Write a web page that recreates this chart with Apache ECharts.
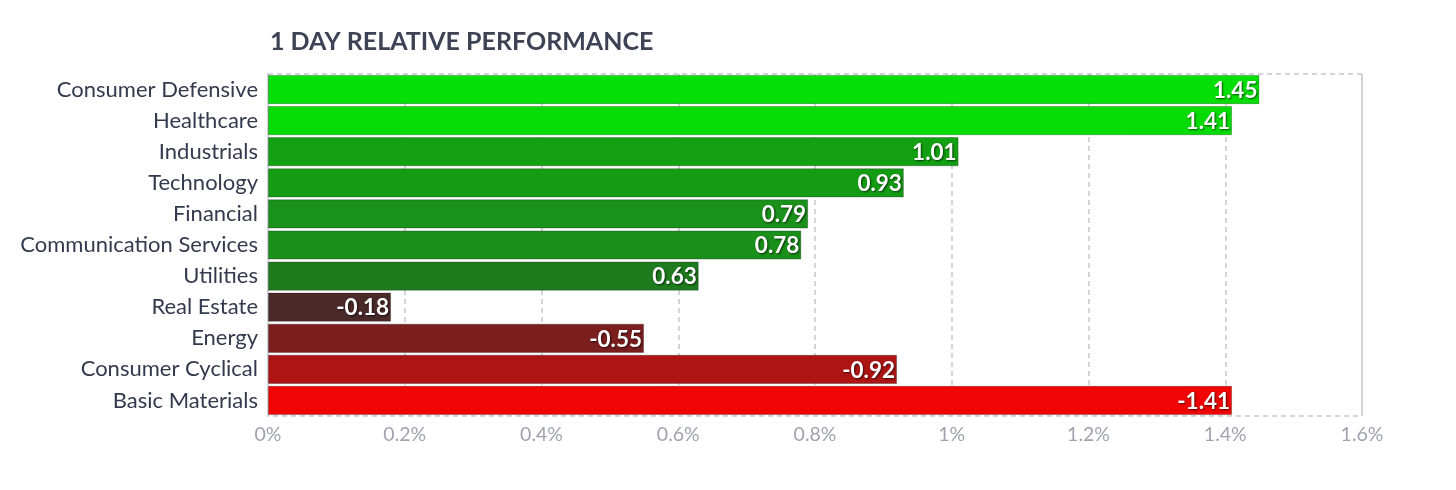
<!DOCTYPE html>
<html><head><meta charset="utf-8">
<script src="https://cdn.jsdelivr.net/npm/echarts@6/dist/echarts.min.js"></script>
<style>html,body{margin:0;padding:0;background:#fff}#c{width:1456px;height:490px}</style>
</head><body><div id="c"></div>
<script>
const categories = ["Consumer Defensive","Healthcare","Industrials","Technology","Financial","Communication Services","Utilities","Real Estate","Energy","Consumer Cyclical","Basic Materials"];
const values = [1.45,1.41,1.01,0.93,0.79,0.78,0.63,-0.18,-0.55,-0.92,-1.41];
const barColors = ["#05df05","#05db05","#12a012","#149c14","#1a911a","#1a8f1a","#1e7c1e","#4a2a28","#7a1e1e","#ad1414","#f00404"];
const xTicks = [0,0.2,0.4,0.6,0.8,1,1.2,1.4,1.6];

const chart = echarts.init(document.getElementById('c'));
chart.setOption({
  animation:false,
  title:{text:"1 DAY RELATIVE PERFORMANCE",left:265,top:24,textStyle:{fontFamily:"Lato",fontWeight:"bold",fontSize:25,color:"#3d4354"}},
  grid:{left:268,right:94,top:74,bottom:74,show:true,borderColor:"#c5c8cf",borderWidth:1.5,borderType:[5,4]},
  xAxis:{type:"value",min:0,max:1.6,interval:0.2,
    axisLine:{show:false},axisTick:{show:false},
    splitLine:{show:true,lineStyle:{color:"#c5c8cf",width:1.5,type:[5,4]}},
    axisLabel:{fontFamily:"Lato",fontSize:19.5,color:"#9ea3ad",margin:9,
      formatter:v=>{const r=Math.round(v*10)/10;return (xTicks.includes(r)?r:v)+"%";}}},
  yAxis:{type:"category",data:categories,inverse:true,
    axisLine:{show:false},axisTick:{show:false},splitLine:{show:false},
    axisLabel:{fontFamily:"Lato",fontSize:22,color:"#333a4e",margin:10}},
  series:[{type:"bar",barCategoryGap:"6%",
    data:values.map((v,i)=>({value:Math.abs(v),itemStyle:{color:barColors[i],borderColor:"rgba(0,0,0,0.25)",borderWidth:1}})),
    label:{show:true,position:"insideRight",offset:[2,1],distance:4,formatter:p=>values[p.dataIndex].toFixed(2),
      fontFamily:"Lato",fontWeight:"bold",fontSize:22.5,color:"#fff",
      textShadowColor:"rgba(0,0,0,0.65)",textShadowBlur:2,textShadowOffsetX:1,textShadowOffsetY:1}
  }]
});
</script></body></html>
